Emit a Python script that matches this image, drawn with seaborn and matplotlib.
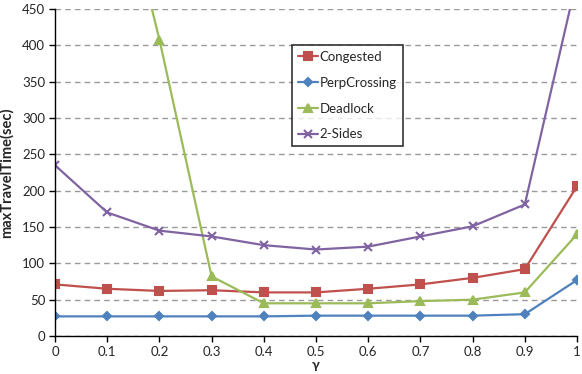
import pandas as pd
import matplotlib
matplotlib.use("Agg")
import matplotlib.pyplot as plt
import seaborn as sns

gamma = [0, 0.1, 0.2, 0.3, 0.4, 0.5, 0.6, 0.7, 0.8, 0.9, 1.0]
congested = [71, 65, 62, 63, 60, 60, 65, 71, 80, 92, 206]
perp_crossing = [27, 27, 27, 27, 27, 28, 28, 28, 28, 30, 77]
deadlock = [1000, 700, 408, 82, 45, 45, 45, 48, 50, 60, 140]
two_sides = [235, 170, 145, 137, 125, 119, 123, 137, 151, 181, 492]

series = ["Congested", "PerpCrossing", "Deadlock", "2-Sides"]
colors = ["#C0504D", "#4F81BD", "#9BBB59", "#8064A2"]
markers = ["s", "D", "^", "x"]
msizes = [6, 4.5, 6, 6]

sns.set_style("white")
plt.rcParams['font.family'] = ['Lato', 'DejaVu Sans']

fig = plt.figure(figsize=(5.82, 3.74), dpi=100)
ax = fig.add_axes([55/582, 1-336/374, 522/582, 327/374])

for name, vals, c, mk, ms in zip(series, [congested, perp_crossing, deadlock, two_sides],
                                 colors, markers, msizes):
    sns.lineplot(x=gamma, y=vals, color=c, marker=mk, markersize=ms,
                 markeredgecolor=c, markeredgewidth=1.5, linewidth=1.6,
                 label=name, ax=ax)

ax.set_xlim(0, 1)
ax.set_ylim(0, 450)
ax.set_xticks(gamma)
ax.set_xticklabels(["0", "0.1", "0.2", "0.3", "0.4", "0.5", "0.6", "0.7", "0.8", "0.9", "1"])
ax.set_yticks(range(0, 451, 50))
ax.tick_params(axis="both", direction="out", length=4, width=1, color="black",
               labelsize=9.5, left=True, bottom=True, pad=3)
ax.yaxis.grid(True, linestyle=(0, (4, 3)), color="#999999", linewidth=1)
ax.set_axisbelow(True)
for s in ["top", "right"]:
    ax.spines[s].set_visible(False)
for s in ["left", "bottom"]:
    ax.spines[s].set_color("black")
    ax.spines[s].set_linewidth(1)

ax.set_xlabel("γ", fontsize=10, fontweight="bold", labelpad=1)
ax.set_ylabel("maxTravelTime(sec)", fontsize=10.5, fontweight="bold", labelpad=6)

leg = ax.legend(loc="upper left", bbox_to_anchor=(237/522, 1-36/327), borderaxespad=0,
                frameon=True, fancybox=False, edgecolor="black", fontsize=9.5,
                handlelength=1.5, handletextpad=0.15, borderpad=0.45, labelspacing=1.05)
leg.get_frame().set_linewidth(1.2)

fig.savefig("out.png", dpi=100)
